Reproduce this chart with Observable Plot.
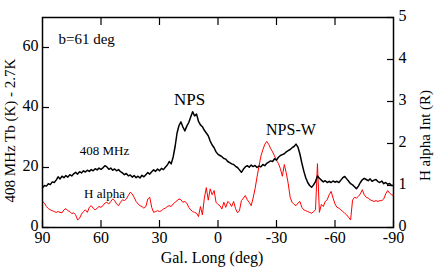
<!DOCTYPE html>
<html><head><meta charset="utf-8">
<script src="https://cdn.jsdelivr.net/npm/d3@7"></script>
<script src="https://cdn.jsdelivr.net/npm/@observablehq/plot@0.6"></script>
<style>body{margin:0;background:#fff}</style>
</head><body><div id="chart"></div>
<script>
// Galactic longitude (deg), 90 -> -90
const lon = [
 90,89,88,87,86,85,84,83,82,81,
 80,79,78,77,76,75,74,73,72,71,
 70,69,68,67,66,65,64,63,62,61,
 60,59,58,57,56,55,54,53,52,51,
 50,49,48,47,46,45,44,43,42,41,
 40,39,38,37,36,35,34,33,32,31,
 30,29,28,27,26,25,24,23,22,21,
 20,19,18,17,16,15,14,13,12,11,
 10,9,8,7,6,5,4,3,2,1,
 0,-1,-2,-3,-4,-5,-6,-7,-8,-9,
 -10,-11,-12,-13,-14,-15,-16,-17,-18,-19,
 -20,-21,-22,-23,-24,-25,-26,-27,-28,-29,
 -30,-31,-32,-33,-34,-35,-36,-37,-38,-39,
 -40,-41,-42,-43,-44,-45,-46,-47,-48,-49,
 -50,-51,-52,-53,-54,-55,-56,-57,-58,-59,
 -60,-61,-62,-63,-64,-65,-66,-67,-68,-69,
 -70,-71,-72,-73,-74,-75,-76,-77,-78,-79,
 -80,-81,-82,-83,-84,-85,-86,-87,-88,-89,
 -90];
// 408 MHz brightness temperature Tb (K) - 2.7K
const tb408 = [
 13.2,14.0,13.8,14.6,14.3,15.2,15.0,15.8,16.9,16.2,
 17.1,16.6,17.3,16.8,17.6,17.2,17.9,18.4,17.8,18.6,
 18.2,18.9,18.5,19.1,18.7,19.3,18.9,19.6,19.2,19.8,
 19.4,19.9,20.6,20.2,19.4,19.8,19.1,19.5,18.9,19.3,
 18.6,18.2,17.6,18.0,17.2,17.5,16.8,17.3,16.6,17.1,
 16.5,17.4,16.9,17.6,18.3,17.8,18.6,19.2,18.7,19.5,
 18.9,19.7,19.3,20.1,20.8,22.0,21.2,23.5,27.0,31.5,
 34.0,35.2,33.5,32.2,33.8,35.0,36.8,38.6,37.2,37.8,
 35.4,34.2,33.6,32.4,31.5,30.6,28.8,27.5,26.6,25.2,
 24.4,24.0,23.6,23.0,22.8,22.0,21.6,21.2,21.0,20.4,
 20.0,19.2,18.4,19.4,20.2,20.6,20.1,20.8,20.3,20.7,
 20.0,20.5,20.2,21.0,20.6,21.4,21.8,22.2,22.0,22.9,
 22.5,23.4,24.0,24.3,24.6,25.2,25.6,26.0,26.6,27.0,
 27.8,26.8,24.5,21.5,18.8,16.6,15.0,14.0,13.4,14.2,
 15.3,17.2,16.4,15.8,15.2,15.6,15.0,15.4,15.0,15.5,
 15.1,15.4,15.0,15.8,16.6,17.0,16.2,15.4,14.6,14.2,
 13.6,12.9,13.8,15.0,15.9,16.4,16.0,15.6,16.2,15.4,
 15.8,16.0,15.3,15.0,15.5,14.6,15.0,14.4,14.7,14.0,
 14.0];
// H alpha intensity (R)
const halpha = [
 0.62,0.58,0.50,0.45,0.42,0.40,0.38,0.36,0.38,0.36,
 0.35,0.42,0.45,0.40,0.38,0.33,0.35,0.30,0.18,0.22,
 0.32,0.38,0.42,0.36,0.48,0.52,0.46,0.42,0.46,0.50,
 0.48,0.52,0.58,0.60,0.56,0.62,0.68,0.64,0.56,0.52,
 0.60,0.66,0.64,0.68,0.76,0.84,0.80,0.72,0.62,0.56,
 0.52,0.50,0.46,0.50,0.68,0.72,0.48,0.36,0.38,0.40,
 0.38,0.40,0.44,0.46,0.50,0.52,0.50,0.56,0.60,0.64,
 0.68,0.66,0.60,0.62,0.58,0.48,0.42,0.38,0.36,0.34,
 0.26,0.50,0.30,0.70,0.95,0.65,0.92,0.78,0.88,0.60,
 0.55,0.52,0.44,0.60,0.48,0.62,0.58,0.50,0.62,0.45,
 0.35,0.40,0.64,0.70,0.76,0.66,0.60,0.52,0.70,0.92,
 1.20,1.45,1.70,1.85,1.98,2.05,1.98,1.88,1.80,1.70,
 1.60,1.52,1.40,1.22,1.50,1.30,1.05,0.72,0.60,0.55,
 0.52,0.58,0.62,0.48,0.42,0.40,0.38,0.36,0.34,0.38,
 0.42,1.52,0.36,0.55,0.50,0.62,0.66,0.78,0.86,0.70,
 0.56,0.48,0.46,0.42,0.38,0.34,0.30,0.24,0.18,0.65,
 0.72,0.70,0.74,0.80,0.90,0.78,0.72,0.70,0.66,0.64,
 0.62,0.64,0.62,0.64,0.64,0.68,0.80,0.88,0.82,0.78,
 0.76];
const xTicks = [90, 60, 30, 0, -30, -60, -90];
const yTicksLeft = [0, 20, 40, 60];
const yTicksRight = [0, 1, 2, 3, 4, 5];
const leftMax = 70, rightMax = 5;

if (lon.length !== tb408.length || lon.length !== halpha.length) throw new Error("length mismatch");

const K = leftMax / rightMax; // map H alpha onto left scale
const haScaled = halpha.map(v => v * K);
const font = "'Liberation Serif', 'Times New Roman', serif";
const tf = {fontFamily: font, fontSize: 16, fontVariant: "normal"};

const chart = Plot.plot({
  width: 436, height: 272,
  marginLeft: 42, marginRight: 43, marginTop: 17, marginBottom: 45,
  style: {fontFamily: font, fontSize: "16px", background: "white", color: "black", overflow: "visible"},
  x: {domain: [90, -90]},
  y: {domain: [0, leftMax]},
  marks: [
    Plot.line(lon, {x: lon, y: haScaled, stroke: "#ff0000", strokeWidth: 1}),
    Plot.line(lon, {x: lon, y: tb408, stroke: "black", strokeWidth: 1.5}),
    Plot.frame({stroke: "black", strokeWidth: 1.5}),
    // ticks (inward)
    Plot.axisX(xTicks, {anchor: "bottom", tickSize: -7, text: null, label: null, strokeWidth: 1.2}),
    Plot.axisX(xTicks.slice(1, -1), {anchor: "top", tickSize: -7, text: null, label: null, strokeWidth: 1.2}),
    Plot.axisY(yTicksLeft, {anchor: "left", tickSize: -7, text: null, label: null, strokeWidth: 1.2}),
    Plot.axisY(yTicksRight.map(v => v * K), {anchor: "right", tickSize: -7, text: null, label: null, strokeWidth: 1.2}),
    // tick labels
    Plot.axisX(xTicks, {anchor: "bottom", tickSize: 0, tickPadding: 4, tickFormat: d => String(d), label: null, ...tf}),
    Plot.axisY(yTicksLeft, {anchor: "left", tickSize: 0, tickPadding: 4, dy: -2, tickFormat: d => String(d), label: null, ...tf}),
    Plot.axisY(yTicksRight.map(v => v * K), {anchor: "right", tickSize: 0, tickPadding: 5, dy: -2, tickFormat: d => String(Math.round(d / K)), label: null, ...tf}),
    // axis titles
    Plot.text(["Gal. Long (deg)"], {frameAnchor: "bottom", lineAnchor: "top", dy: 24, dx: -6, fontSize: 16, fontFamily: font}),
    Plot.text(["408 MHz Tb (K) - 2.7K"], {frameAnchor: "left", textAnchor: "middle", rotate: -90, dx: -32, dy: 8, fontSize: 15, fontFamily: font}),
    Plot.text(["H alpha Int (R)"], {frameAnchor: "right", textAnchor: "middle", rotate: -90, dx: 32, dy: 13, fontSize: 15, fontFamily: font}),
    // annotations
    Plot.text(["b=61 deg"], {x: 81.8, y: 62.9, textAnchor: "start", fontSize: 15, fontFamily: font}),
    Plot.text(["NPS"], {x: 14.6, y: 42.8, fontSize: 17, fontFamily: font}),
    Plot.text(["NPS-W"], {x: -37.4, y: 32.4, fontSize: 16, fontFamily: font}),
    Plot.text(["408 MHz"], {x: 58.2, y: 25.4, fontSize: 13, fontFamily: font}),
    Plot.text(["H alpha"], {x: 58.2, y: 11.1, fontSize: 13, fontFamily: font})
  ]
});
document.getElementById("chart").appendChild(chart);
</script></body></html>
